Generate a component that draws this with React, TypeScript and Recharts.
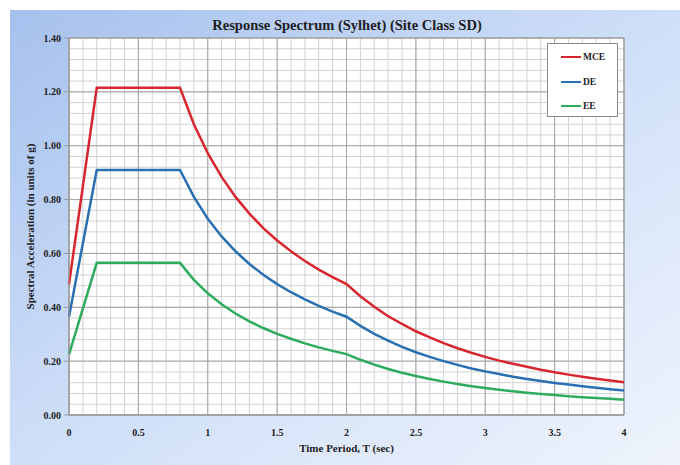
import React from "react";
import {
  LineChart,
  Line,
  XAxis,
  YAxis,
  CartesianGrid,
  ReferenceArea,
} from "recharts";

// Period, T (sec)
const periods = [
  0, 0.2, 0.8, 0.9, 1.0, 1.1, 1.2, 1.3, 1.4, 1.5, 1.6, 1.7, 1.8, 1.9, 2.0,
  2.1, 2.2, 2.3, 2.4, 2.5, 2.6, 2.7, 2.8, 2.9, 3.0, 3.1, 3.2, 3.3, 3.4, 3.5,
  3.6, 3.7, 3.8, 3.9, 4.0,
];

const mce = [
  0.485, 1.215, 1.215, 1.08, 0.972, 0.884, 0.81, 0.748, 0.694, 0.648, 0.608,
  0.572, 0.54, 0.512, 0.486, 0.441, 0.402, 0.367, 0.338, 0.311, 0.288, 0.267,
  0.248, 0.231, 0.216, 0.202, 0.19, 0.179, 0.168, 0.159, 0.15, 0.142, 0.135,
  0.128, 0.122,
];

const de = [
  0.365, 0.91, 0.91, 0.81, 0.729, 0.663, 0.608, 0.561, 0.521, 0.486, 0.456,
  0.429, 0.405, 0.384, 0.365, 0.331, 0.301, 0.276, 0.253, 0.233, 0.216, 0.2,
  0.186, 0.173, 0.162, 0.152, 0.142, 0.134, 0.126, 0.119, 0.113, 0.107, 0.101,
  0.096, 0.091,
];

const ee = [
  0.225, 0.565, 0.565, 0.502, 0.452, 0.411, 0.377, 0.348, 0.323, 0.301, 0.283,
  0.266, 0.251, 0.238, 0.226, 0.205, 0.187, 0.171, 0.157, 0.145, 0.134, 0.124,
  0.115, 0.107, 0.1, 0.094, 0.088, 0.083, 0.078, 0.074, 0.07, 0.066, 0.063,
  0.06, 0.057,
];

const xTicks = [0, 0.5, 1, 1.5, 2, 2.5, 3, 3.5, 4];
const yTicks = [0, 0.2, 0.4, 0.6, 0.8, 1.0, 1.2, 1.4];
const xMinorTicks = [
  0, 0.1, 0.2, 0.3, 0.4, 0.5, 0.6, 0.7, 0.8, 0.9, 1, 1.1, 1.2, 1.3, 1.4, 1.5,
  1.6, 1.7, 1.8, 1.9, 2, 2.1, 2.2, 2.3, 2.4, 2.5, 2.6, 2.7, 2.8, 2.9, 3, 3.1,
  3.2, 3.3, 3.4, 3.5, 3.6, 3.7, 3.8, 3.9, 4,
];
const yMinorTicks = [
  0, 0.04, 0.08, 0.12, 0.16, 0.2, 0.24, 0.28, 0.32, 0.36, 0.4, 0.44, 0.48,
  0.52, 0.56, 0.6, 0.64, 0.68, 0.72, 0.76, 0.8, 0.84, 0.88, 0.92, 0.96, 1.0,
  1.04, 1.08, 1.12, 1.16, 1.2, 1.24, 1.28, 1.32, 1.36, 1.4,
];

const seriesNames = ["MCE", "DE", "EE"];
const seriesColors = ["#d8262e", "#2870b2", "#2eab5c"];

const data = periods.map((t, i) => ({
  t,
  MCE: mce[i],
  DE: de[i],
  EE: ee[i],
}));

const font = '"Liberation Serif", "Times New Roman", serif';
const tickStyle = { fontSize: 10, fontWeight: 700, fill: "#1e1e1e", fontFamily: font };

export default function App() {
  return (
    <div
      style={{
        position: "absolute",
        left: 0,
        top: 0,
        width: 680,
        height: 465,
        background: "#fff",
        fontFamily: font,
      }}
    >
      <div
        style={{
          position: "absolute",
          left: 10,
          top: 10,
          width: 670,
          height: 455,
          background: "linear-gradient(to bottom right, #a6c1ee 0%, #cfdff8 50%, #eff4fc 100%)",
        }}
      />
      <div
        style={{
          position: "absolute",
          left: 0,
          width: 694,
          top: 17,
          textAlign: "center",
          fontSize: 14.5,
          fontWeight: 700,
          color: "#1e1e1e",
        }}
      >
        Response Spectrum (Sylhet) (Site Class SD)
      </div>
      <LineChart
        width={680}
        height={465}
        data={data}
        margin={{ top: 38, right: 56, bottom: 0, left: 8 }}
        style={{ position: "absolute", left: 0, top: 0 }}
      >
        <CartesianGrid
          stroke="#d2d2d2"
          fill="#ffffff"
          strokeWidth={1}
          verticalValues={xMinorTicks}
          horizontalValues={yMinorTicks}
        />
        <CartesianGrid
          stroke="#a3a3a3"
          strokeWidth={1}
          verticalValues={xTicks}
          horizontalValues={yTicks}
        />
        <XAxis
          dataKey="t"
          type="number"
          domain={[0, 4]}
          ticks={xTicks}
          interval={0}
          height={50}
          tick={tickStyle}
          tickLine={false}
          axisLine={{ stroke: "#9a9a9a" }}
          tickMargin={8}
          label={{
            value: "Time Period, T (sec)",
            position: "insideBottom",
            offset: 13,
            style: { fontSize: 11, fontWeight: 700, fill: "#1e1e1e", fontFamily: font },
          }}
        />
        <YAxis
          type="number"
          domain={[0, 1.4]}
          ticks={yTicks}
          interval={0}
          width={61}
          tick={tickStyle}
          tickFormatter={(v: number) => v.toFixed(2)}
          tickSize={5}
          tickLine={{ stroke: "#9a9a9a" }}
          axisLine={{ stroke: "#9a9a9a" }}
          tickMargin={3}
          label={{
            value: "Spectral Acceleration (in units of g)",
            angle: -90,
            position: "insideLeft",
            offset: 22,
            style: {
              fontSize: 11,
              fontWeight: 700,
              fill: "#1e1e1e",
              fontFamily: font,
              textAnchor: "middle",
            },
          }}
        />
        <ReferenceArea
          x1={0}
          x2={4}
          y1={0}
          y2={1.4}
          fill="none"
          stroke="#9a9a9a"
          strokeWidth={1}
        />
        {seriesNames.map((name, i) => (
          <Line
            key={name}
            type="linear"
            dataKey={name}
            stroke={seriesColors[i]}
            strokeWidth={2.5}
            dot={false}
            activeDot={false}
            isAnimationActive={false}
          />
        ))}
      </LineChart>
      <div
        style={{
          position: "absolute",
          left: 547,
          top: 43,
          width: 71,
          height: 74,
          background: "#fff",
          border: "1px solid #8a8a8a",
          boxSizing: "border-box",
        }}
      >
        {seriesNames.map((name, i) => (
          <div
            key={name}
            style={{
              position: "absolute",
              left: 13,
              top: 7 + i * 24.5,
              display: "flex",
              alignItems: "center",
              fontSize: 9.5,
              fontWeight: 700,
              color: "#1e1e1e",
              lineHeight: "12px",
            }}
          >
            <span
              style={{
                display: "inline-block",
                width: 20,
                height: 2,
                background: seriesColors[i],
                marginRight: 2,
              }}
            />
            {name}
          </div>
        ))}
      </div>
    </div>
  );
}
